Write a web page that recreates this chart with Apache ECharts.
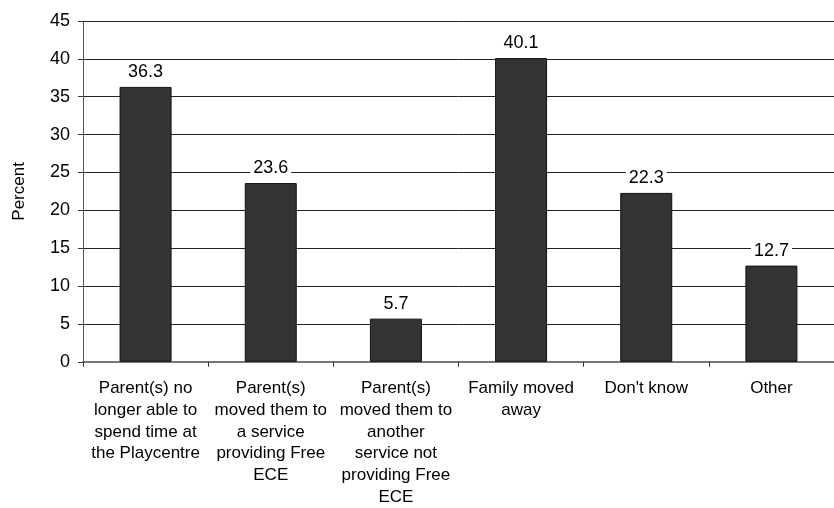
<!DOCTYPE html>
<html>
<head>
<meta charset="utf-8">
<script src="https://cdn.jsdelivr.net/npm/echarts@6/dist/echarts.min.js"></script>
<style>
html,body{margin:0;padding:0;background:#fff;}
#chart{width:834px;height:508px;}
</style>
</head>
<body>
<div id="chart"></div>
<script>
const categories = [
  "Parent(s) no\nlonger able to\nspend time at\nthe Playcentre",
  "Parent(s)\nmoved them to\na service\nproviding Free\nECE",
  "Parent(s)\nmoved them to\nanother\nservice not\nproviding Free\nECE",
  "Family moved\naway",
  "Don't know",
  "Other"
];
const values = [36.3, 23.6, 5.7, 40.1, 22.3, 12.7];
const yAxisName = "Percent";

const chart = echarts.init(document.getElementById('chart'), null, {renderer: 'canvas'});
chart.setOption({
  animation: false,
  backgroundColor: '#fff',
  textStyle: {fontFamily: 'Liberation Sans, Arial, sans-serif'},
  grid: {left: 83, top: 21, width: 759, bottom: 142, containLabel: false},
  xAxis: {
    type: 'category',
    data: categories,
    boundaryGap: true,
    axisLine: {lineStyle: {color: '#777', width: 2}},
    axisTick: {show: true, length: 5, alignWithLabel: false, lineStyle: {color: '#333', width: 1}},
    axisLabel: {interval: 0, color: '#000', fontSize: 17, lineHeight: 21.7, margin: 16,
      fontFamily: 'Liberation Sans, Arial, sans-serif', align: 'center'}
  },
  yAxis: {
    type: 'value',
    min: 0, max: 45, interval: 5,
    name: yAxisName,
    nameLocation: 'middle',
    nameRotate: 90,
    nameGap: 55,
    nameTextStyle: {color: '#000', fontSize: 17, fontFamily: 'Liberation Sans, Arial, sans-serif'},
    axisLine: {show: true, lineStyle: {color: '#555', width: 1}},
    axisTick: {show: true, length: 5, lineStyle: {color: '#333'}},
    axisLabel: {color: '#000', fontSize: 18, margin: 13, fontFamily: 'Liberation Sans, Arial, sans-serif'},
    splitLine: {show: true, lineStyle: {color: '#222', width: 1}}
  },
  series: [{
    type: 'bar',
    data: values,
    barWidth: 52,
    itemStyle: {color: '#333333', borderColor: '#111', borderWidth: 1},
    label: {
      show: true, position: 'top', distance: 6,
      color: '#000', fontSize: 18, fontFamily: 'Liberation Sans, Arial, sans-serif',
      backgroundColor: '#fff', padding: [0, 3, 0, 3]
    }
  }]
});
</script>
</body>
</html>
